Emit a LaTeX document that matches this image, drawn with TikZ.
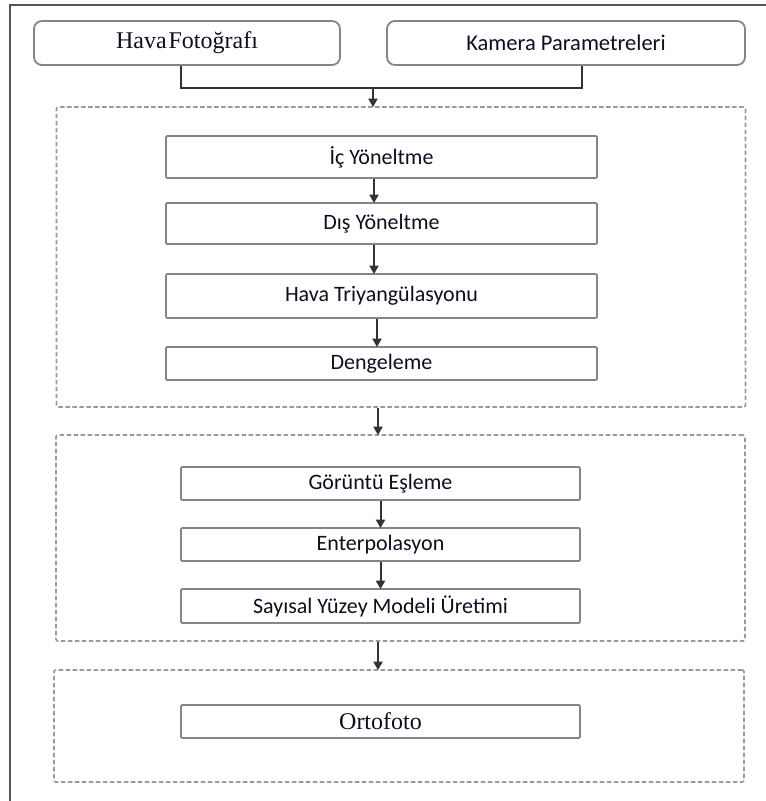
\documentclass[tikz,border=0pt]{standalone}
\usepackage{fontspec}
\setmainfont{Carlito}
\newfontfamily\seriffont{Liberation Serif}
\usetikzlibrary{arrows.meta}
\definecolor{boxgray}{HTML}{858585}
\definecolor{dashgray}{HTML}{9A9A9A}
\definecolor{arrcol}{HTML}{333333}
\definecolor{framecol}{HTML}{555555}
\definecolor{txtcol}{HTML}{0E0E22}
\tikzset{
  topbox/.style={draw=boxgray, line width=1.8pt, rounded corners=8pt, inner sep=0pt,
    minimum height=44pt, text=txtcol, font=\fontsize{22.5}{26}\selectfont},
  stepbox/.style={draw=boxgray, line width=1.8pt, rounded corners=1.2pt, inner sep=0pt,
    minimum width=431pt, text=txtcol, font=\fontsize{22}{26}\selectfont},
  stepboxb/.style={stepbox, minimum width=399pt, minimum height=33pt},
  groupbox/.style={draw=dashgray, line width=1.7pt, dash pattern=on 4.5pt off 2.5pt,
    rounded corners=2pt, inner sep=0pt, minimum width=689pt},
  conn/.style={draw=arrcol, line width=2pt},
  arr/.style={conn, -{Triangle[length=8.5pt,width=9pt]}, shorten >=-1pt},
  framel/.style={draw=framecol, line width=1.6pt},
  serifbig/.style={font=\seriffont\fontsize{24}{28}\selectfont}
}
\begin{document}
\begin{tikzpicture}[x=1pt,y=-1pt]
\useasboundingbox (0,0) rectangle (766,801);
\fill[white] (0,0) rectangle (766,801);
% outer frame
\draw[framel] (10,801) -- (10,5) -- (766,5);

% top boxes
\node[topbox, serifbig, minimum width=306pt] (hava) at (187,43) {Hava\hspace{0.08em}Fotoğrafı};
\node[topbox, minimum width=358pt] (kamera) at (566,43) {Kamera Parametreleri};

% group boxes
\node[groupbox, minimum height=300pt] (g1) at (401,257) {};
\node[groupbox, minimum height=206pt] (g2) at (400.5,538) {};
\node[groupbox, minimum width=690pt, minimum height=112pt] (g3) at (399,726) {};

% group 1 steps
\node[stepbox, minimum height=42pt] (ic) at (381.5,157) {İç Yöneltme};
\node[stepbox, minimum height=41pt] (dis) at (381.5,223.5) {Dış Yöneltme};
\node[stepbox, minimum height=44pt] (tri) at (381.5,296) {Hava Triyangülasyonu};
\node[stepbox, minimum height=33pt] (den) at (381.5,363.5) {Dengeleme};

% group 2 steps
\node[stepboxb] (gor) at (380.5,483.5) {Görüntü Eşleme};
\node[stepboxb] (ent) at (380.5,544.5) {Enterpolasyon};
\node[stepboxb, minimum height=34pt] (say) at (380.5,606) {Sayısal Yüzey Modeli Üretimi};

% group 3
\node[stepboxb, serifbig] (orto) at (380.5,721.5) {Ortofoto};

% connectors
\coordinate (j1) at (373,88);
\draw[conn] ([xshift=-6pt]hava.south) |- (j1) -| ([xshift=16pt]kamera.south);
\draw[arr] (j1) -- (g1.north -| j1);
\draw[arr] ([xshift=-7.5pt]ic.south) -- ([xshift=-7.5pt]dis.north);
\draw[arr] ([xshift=-7.5pt]dis.south) -- ([xshift=-7.5pt]tri.north);
\draw[arr] ([xshift=-4.5pt]tri.south) -- ([xshift=-4.5pt]den.north);
\draw[arr] ([xshift=-23pt]g1.south) -- ([xshift=-22.5pt]g2.north);
\draw[arr] (gor) -- (ent);
\draw[arr] (ent) -- (say);
\draw[arr] ([xshift=-22.5pt]g2.south) -- ([xshift=-21pt]g3.north);
\end{tikzpicture}
\end{document}
